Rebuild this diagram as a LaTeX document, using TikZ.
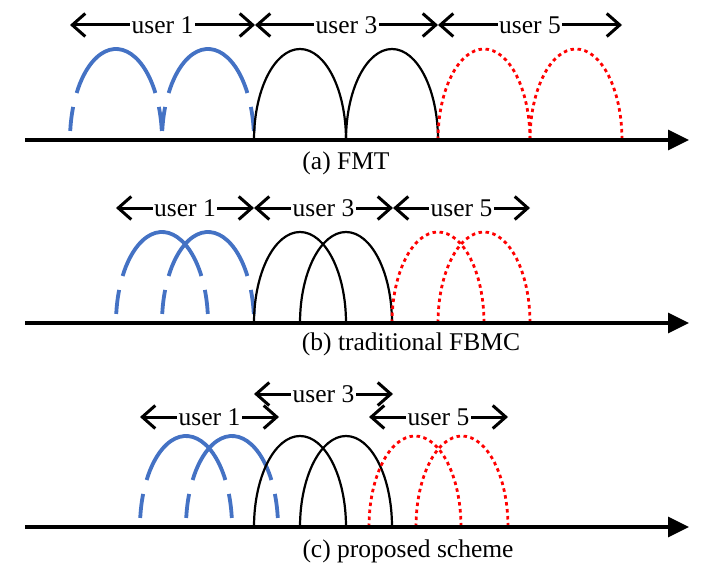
\documentclass[tikz,border=0pt]{standalone}
\usepackage{fontspec}
\setmainfont{Liberation Serif}
\usetikzlibrary{arrows.meta}
\definecolor{ublue}{RGB}{68,114,196}
\begin{document}
\begin{tikzpicture}[x=1pt,y=1pt,
		axis/.style={line width=3.2pt,-{Triangle[length=21pt,width=20pt]}},
		band/.style={line width=3pt,{Straight Barb[length=13pt,width=23pt]}-{Straight Barb[length=13pt,width=23pt]}},
		lab/.style={fill=white,inner sep=1.5pt,font=\fontsize{25.5}{30}\selectfont},
		capt/.style={font=\fontsize{25.5}{30}\selectfont},
		bluearc/.style={ublue,line width=3.8pt},
		blackarc/.style={black,line width=2.2pt},
		redarc/.style={red,line width=2.8pt,dash pattern=on 3.5pt off 3.5pt}]
				\useasboundingbox (0,0) rectangle (708,-569);
				\foreach \y in {140,323,527}{
					\coordinate (O\y) at (25,-\y);
					\coordinate (E\y) at (689,-\y);
				}
				\foreach \y/\c in {140/116,140/208,323/162,323/208,527/186,527/232}
					\foreach \s/\e in {5.7/21.3,31.1/148.9,158.7/174.3}
						\draw[bluearc] (\c,-\y) ++(\s:46 and 91) arc[start angle=\s,end angle=\e,x radius=46,y radius=91];
				\foreach \y/\c in {140/300,140/392,323/300,323/346,527/300,527/346}
					\draw[blackarc] (\c,-\y) ++(-46,0) arc[start angle=180,end angle=0,x radius=46,y radius=91];
				\foreach \y/\c in {140/484,140/576,323/438,323/484,527/415,527/462}
					\draw[redarc] (\c,-\y) ++(-46,0) arc[start angle=180,end angle=0,x radius=46,y radius=91];
				\draw[axis] (O140) -- (E140);
				\draw[axis] (O323) -- (E323);
				\draw[axis] (O527) -- (E527);
				\coordinate (A0) at (70,-25);
				\coordinate (A1) at (255,-25);
				\coordinate (A2) at (438,-25);
				\coordinate (A3) at (622,-25);
				\draw[band] (A0) -- node[lab]{user 1} (A1);
				\draw[band] (A1) -- node[lab]{user 3} (A2);
				\draw[band] (A2) -- node[lab]{user 5} (A3);
				\node[capt] (CA) at (346,-163) {(a) FMT};
				\coordinate (B0) at (116,-208);
				\coordinate (B1) at (254,-208);
				\coordinate (B2) at (393,-208);
				\coordinate (B3) at (530,-208);
				\draw[band] (B0) -- node[lab]{user 1} (B1);
				\draw[band] (B1) -- node[lab]{user 3} (B2);
				\draw[band] (B2) -- node[lab]{user 5} (B3);
				\node[capt] (CB) at (411,-344) {(b) traditional FBMC};
				\coordinate (C0) at (140,-417);
				\coordinate (C1) at (279,-417);
				\coordinate (C2) at (254,-394);
				\coordinate (C3) at (393,-394);
				\coordinate (C4) at (369,-417);
				\coordinate (C5) at (508,-417);
				\draw[band] (C0) -- node[lab]{user 1} (C1);
				\draw[band] (C2) -- node[lab]{user 3} (C3);
				\draw[band] (C4) -- node[lab]{user 5} (C5);
				\node[capt] (CC) at (408,-551) {(c) proposed scheme};
			\end{tikzpicture}
\end{document}
